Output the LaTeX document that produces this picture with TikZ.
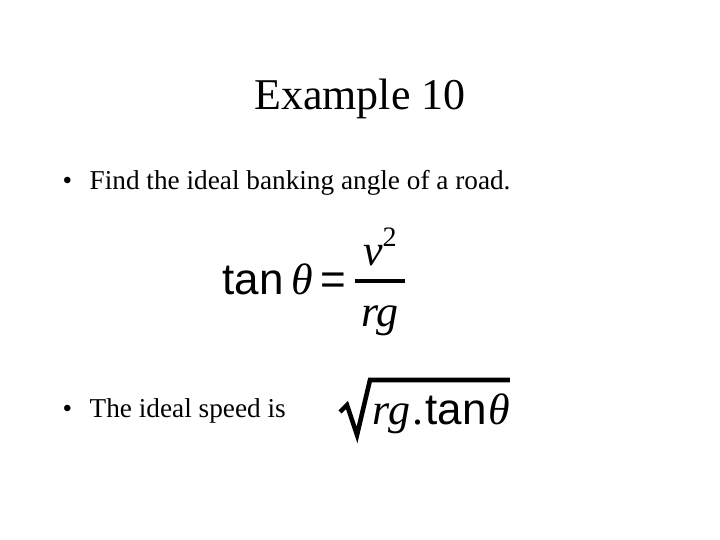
\documentclass[tikz,border=0pt]{standalone}
\usepackage{fontspec}
\setmainfont{Liberation Serif}
\newfontfamily\arial{Liberation Sans}
\begin{document}
\begin{tikzpicture}[x=0.01cm,y=-0.01cm,
  txt/.style={anchor=base west,inner sep=0pt,font=\fontsize{7.75}{10}\selectfont},
  eq/.style={inner sep=0pt,font=\fontsize{12.5}{15}\selectfont}]
\useasboundingbox[fill=white] (0,0) rectangle (720,540);
\node[anchor=base,inner sep=0pt,font=\fontsize{12.5}{15}\selectfont] (title) at (360,110) {Example 10};
\node[txt] (bu1) at (62,190) {•};
\node[txt] (b1) at (89,190) {Find the ideal banking angle of a road.};
\node[eq,anchor=base west] (tan) at (222,295) {{\arial tan}\,\textit{θ}};
\node[eq,anchor=base] (eqs) at (333,295) {{\arial =}};
\node[eq,anchor=base] (num) at (380,266) {\textit{v}\raisebox{0.45em}{\fontsize{8}{9}\selectfont 2}};
\node[eq,anchor=base] (den) at (380,327) {\textit{rg}};
\draw[line width=1.3] (355,281) -- (405,281);
\node[txt] (bu2) at (62,418) {•};
\node[txt] (b2) at (89,418) {The ideal speed is};
\node[eq,anchor=base west] (rad) at (372,425) {\textit{rg}\hspace{0.05em}.\hspace{0.05em}{\arial tan}\hspace{0.05em}\textit{θ}};
\draw[line width=1.3] (340,412) -- (347,405) -- (357,435) -- (370,380) -- (510,380);
\end{tikzpicture}
\end{document}
